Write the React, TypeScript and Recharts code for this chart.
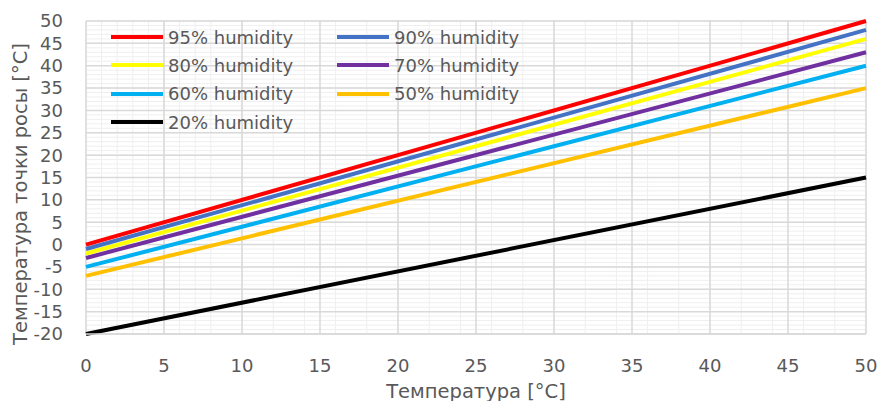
import React from 'react';
import { LineChart, Line, XAxis, YAxis, CartesianGrid } from 'recharts';

const temps = [0, 50];
const h95 = [0, 50];
const h90 = [-1, 48];
const h80 = [-2, 46];
const h70 = [-3, 43];
const h60 = [-5, 40];
const h50 = [-7, 35];
const h20 = [-20, 15];

const xTicks = [0, 5, 10, 15, 20, 25, 30, 35, 40, 45, 50];
const yTicks = [-20, -15, -10, -5, 0, 5, 10, 15, 20, 25, 30, 35, 40, 45, 50];
const xMinor = Array.from({ length: 51 }, (_, i) => i);
const yMinor = Array.from({ length: 71 }, (_, i) => i - 20);

const series = [
  { key: 'h95', name: '95% humidity', color: '#FF0000', values: h95 },
  { key: 'h90', name: '90% humidity', color: '#4472C4', values: h90 },
  { key: 'h80', name: '80% humidity', color: '#FFFF00', values: h80 },
  { key: 'h70', name: '70% humidity', color: '#7030A0', values: h70 },
  { key: 'h60', name: '60% humidity', color: '#00B0F0', values: h60 },
  { key: 'h50', name: '50% humidity', color: '#FFC000', values: h50 },
  { key: 'h20', name: '20% humidity', color: '#000000', values: h20 },
];

const data = temps.map((t, i) => {
  const row: any = { t };
  series.forEach((s) => {
    row[s.key] = s.values[i];
  });
  return row;
});

const FONT = '"DejaVu Sans", sans-serif';
const TXT = '#595959';

export default function App() {
  return (
    <div style={{ position: 'absolute', left: 0, top: 0, width: 882, height: 401, background: '#fff', fontFamily: FONT }}>
      <LineChart width={882} height={401} data={data} margin={{ top: 21, right: 16, left: 0, bottom: 0 }}>
        <CartesianGrid
          stroke="#EFEFEF"
          strokeWidth={1}
          horizontalValues={yMinor}
          verticalValues={xMinor}
        />
        <CartesianGrid
          stroke="#D9D9D9"
          strokeWidth={1.5}
          horizontalValues={yTicks}
          verticalValues={xTicks}
        />
        <XAxis
          dataKey="t"
          type="number"
          domain={[0, 50]}
          ticks={xTicks}
          height={67}
          axisLine={{ stroke: '#D9D9D9', strokeWidth: 1.5 }}
          tickLine={false}
          tickMargin={19}
          tick={{ fill: TXT, fontSize: 18, fontFamily: FONT }}
          label={{
            content: () => (
              <text x={476} y={391} textAnchor="middle" dominantBaseline="central" fill={TXT} fontSize={19.5} fontFamily={FONT}>
                Температура [°C]
              </text>
            ),
          }}
        />
        <YAxis
          type="number"
          domain={[-20, 50]}
          ticks={yTicks}
          width={86}
          interval={0}
          axisLine={false}
          tickLine={false}
          tickMargin={17}
          tick={{ fill: TXT, fontSize: 18, fontFamily: FONT }}
          label={{
            content: () => (
              <text
                x={20}
                y={194}
                transform="rotate(-90 20 194)"
                textAnchor="middle"
                dominantBaseline="central"
                fill={TXT}
                fontSize={19.5}
                fontFamily={FONT}
              >
                Температура точки росы [°C]
              </text>
            ),
          }}
        />
        {series
          .slice()
          .reverse()
          .map((s) => (
            <Line
              key={s.key}
              dataKey={s.key}
              name={s.name}
              stroke={s.color}
              strokeWidth={4}
              dot={false}
              activeDot={false}
              isAnimationActive={false}
              type="linear"
            />
          ))}
      </LineChart>
      <div style={{ position: 'absolute', left: 111, top: 23, width: 460 }}>
        <div style={{ display: 'grid', gridTemplateColumns: '226px 226px', gridAutoRows: '28.3px' }}>
          {series.map((s) => (
            <div key={s.key} style={{ display: 'flex', alignItems: 'center', height: 28.3 }}>
              <div style={{ width: 52, height: 4, background: s.color, marginRight: 5 }} />
              <span style={{ color: TXT, fontSize: 18, fontFamily: FONT, whiteSpace: 'nowrap' }}>{s.name}</span>
            </div>
          ))}
        </div>
      </div>
    </div>
  );
}
